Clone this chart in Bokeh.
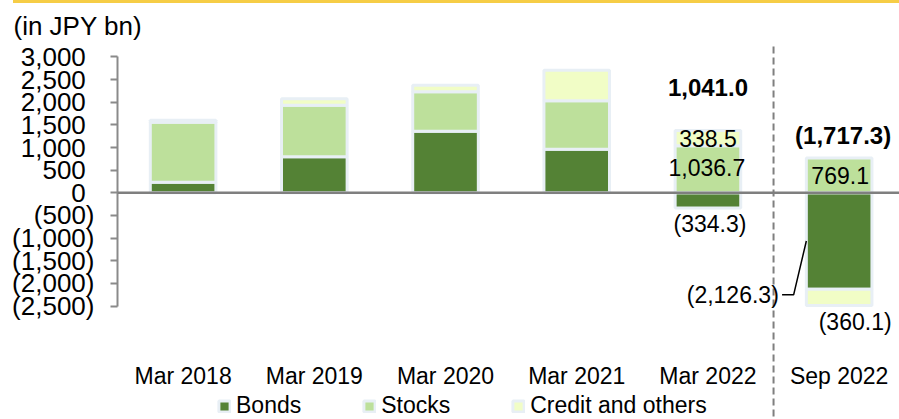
import numpy as np
from bokeh.plotting import figure
from bokeh.models import (Range1d, FixedTicker, Span, Label, Legend, LegendItem, Arrow)
from bokeh.embed import file_html
from bokeh.resources import INLINE

# ---------------- data ----------------
categories = ["Mar 2018", "Mar 2019", "Mar 2020", "Mar 2021", "Mar 2022", "Sep 2022"]
bonds = [234, 795, 1360, 962, -334.3, -2126.3]
stocks = [1322, 1139, 870, 1069, 1036.7, 769.1]
credit = [44, 143, 143, 673, 338.5, -360.1]
totals = [None, None, None, None, 1041.0, -1717.3]
series_names = ["Bonds", "Stocks", "Credit and others"]
y_ticks = [3000, 2500, 2000, 1500, 1000, 500, 0, -500, -1000, -1500, -2000, -2500]

# ---------------- style ----------------
FONT = "Liberation Sans"
colors = ["#548235", "#bde09b", "#f1fdc6"]
outline = "#e8eff5"
GRAY = "#7f7f7f"


def fmt(v):
    s = f"{abs(v):,.1f}"
    return f"({s})" if v < 0 else s


def fmt_tick(v):
    s = f"{abs(v):,d}"
    return f"({s})" if v < 0 else s + "\u2004"


n = len(categories)
x = np.arange(n)

p = figure(width=899, height=419,
           x_range=Range1d(-0.5, 5.46), y_range=Range1d(-5004, 3362),
           output_backend="svg", toolbar_location=None,
           min_border_left=117, min_border_right=0, min_border_top=40, min_border_bottom=0)
p.grid.visible = False
p.outline_line_color = None
p.border_fill_color = None
p.background_fill_color = None
p.styles = {"background": "linear-gradient(#f6cd46, #f6cd46) 13px 0 / 886px 3px no-repeat, white"}

p.title.text = "(in JPY bn)"
p.title.align = "left"
p.title.offset = -104
p.title.standoff = 0
p.title.text_font = FONT
p.title.text_font_size = "26px"
p.title.text_font_style = "normal"
p.title.text_color = "black"

# stacked bars (positives up, negatives down)
pos_base = np.zeros(n)
neg_base = np.zeros(n)
renderers = []
stack_bounds = []
for vals, color in zip([bonds, stocks, credit], colors):
    v = np.array(vals, dtype=float)
    bottom = np.where(v >= 0, pos_base, neg_base)
    top = bottom + v
    pos_base = np.where(v >= 0, top, pos_base)
    neg_base = np.where(v < 0, top, neg_base)
    r = p.vbar(x=x, bottom=bottom, top=top, width=0.5,
               fill_color=color, line_color=outline, line_width=3)
    renderers.append(r)
    stack_bounds.append((bottom, top))

# zero line
p.add_layout(Span(location=0, dimension="width", line_color=GRAY, line_width=2.5))

# dashed separator between Mar 2022 and Sep 2022
p.add_layout(Arrow(end=None, x_start=n - 1.5, x_end=n - 1.5, y_start=3230, y_end=-5300,
                   line_color=GRAY, line_width=2, line_dash="7 4"))

# axes
xa = p.xaxis[0]
xa.fixed_location = -3150
xa.ticker = FixedTicker(ticks=list(x))
xa.major_label_overrides = {int(i): c for i, c in zip(x, categories)}
xa.axis_line_color = None
xa.major_tick_line_color = None
xa.minor_tick_line_color = None
xa.major_tick_out = 0
xa.major_tick_in = 0
xa.major_label_standoff = 27
xa.major_label_text_font = FONT
xa.major_label_text_font_size = "23px"
xa.major_label_text_color = "black"

ya = p.yaxis[0]
ya.ticker = FixedTicker(ticks=y_ticks)
ya.bounds = (min(y_ticks), max(y_ticks))
ya.major_label_overrides = {t: fmt_tick(t) for t in y_ticks}
ya.axis_line_color = "#8a8a8a"
ya.axis_line_width = 2
ya.major_tick_line_color = "#8a8a8a"
ya.major_tick_line_width = 2
ya.major_tick_out = 7
ya.major_tick_in = 0
ya.minor_tick_line_color = None
ya.major_label_standoff = 16
ya.major_label_text_font = FONT
ya.major_label_text_font_size = "26px"
ya.major_label_text_color = "black"


def add_label(xv, yv, txt, dx=0, dy=0, bold=False, size="23px", align="center"):
    p.add_layout(Label(x=xv, y=yv, text=txt, x_offset=dx, y_offset=dy,
                       text_font=FONT, text_font_size=size,
                       text_font_style="bold" if bold else "normal",
                       text_align=align, text_baseline="middle", text_color="black"))


# data labels for Mar 2022 (index 4)
i = 4
b_bot, b_top = stack_bounds[0]
s_bot, s_top = stack_bounds[1]
c_bot, c_top = stack_bounds[2]
add_label(i, (c_bot[i] + c_top[i]) / 2, fmt(credit[i]), dy=0)
add_label(i, (s_bot[i] + s_top[i]) / 2, fmt(stocks[i]), dx=-1, dy=2)
add_label(i, b_top[i], fmt(bonds[i]), dx=2, dy=-16)
add_label(i, 2330, fmt(totals[i]), bold=True, size="24px")

# Sep 2022 (index 5)
i = 5
add_label(i, (s_bot[i] + s_top[i]) / 2, fmt(stocks[i]), dx=1)
add_label(i, c_top[i], fmt(credit[i]), dx=16, dy=-17)
add_label(i, 1265, fmt(totals[i]), bold=True, size="24px", dx=4)
# bonds label with leader line
y_lead = bonds[i] + credit[i] * 0.35
add_label(i - 0.46, y_lead, fmt(bonds[i]), align="right", dy=0)
p.line(x=[i - 0.435, i - 0.347, i - 0.25], y=[y_lead, y_lead, bonds[i] / 2],
       line_color="black", line_width=1.5)

legend = Legend(items=[LegendItem(label=nm, renderers=[r]) for nm, r in zip(series_names, renderers)],
                orientation="horizontal", location=(100, 0), spacing=61,
                glyph_width=14, glyph_height=14, label_standoff=5, padding=0, margin=0,
                border_line_color=None, background_fill_alpha=0,
                label_text_font=FONT, label_text_font_size="23px", label_text_color="black")
p.add_layout(legend, "center")

open("out.html", "w").write(file_html(p, INLINE))
